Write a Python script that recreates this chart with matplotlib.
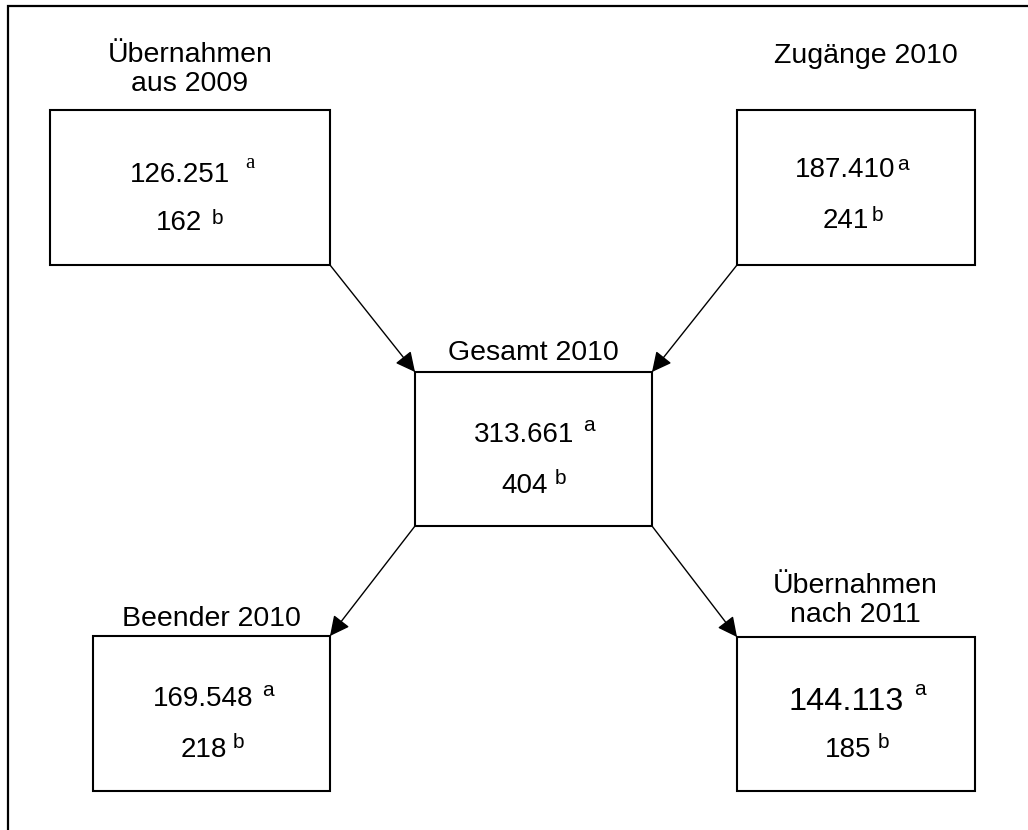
import matplotlib
matplotlib.use("Agg")
import matplotlib.pyplot as plt
from matplotlib.patches import Rectangle

# ---- data ----
titles = ["Übernahmen\naus 2009", "Zugänge 2010", "Gesamt 2010",
          "Beender 2010", "Übernahmen\nnach 2011"]
values_a = ["126.251", "187.410", "313.661", "169.548", "144.113"]
values_b = ["162", "241", "404", "218", "185"]
sup_a = ["a", "a", "a", "a", "a"]
sup_b = ["b", "b", "b", "b", "b"]
flows = [(0, 2), (1, 2), (2, 3), (2, 4)]  # from box -> to box

# ---- layout (pixel coordinates, y downwards) ----
boxes = [  # x0, y0, x1, y1
    (50, 110, 330, 265),
    (737, 110, 975, 265),
    (415, 372, 652, 526),
    (93, 636, 330, 791),
    (737, 637, 975, 791),
]
title_pos = [(190, 91), (866, 63), (533, 360), (211, 626), (855, 622)]  # center x, baseline of last line
num_a_pos = [(180, 182), (845, 177), (524, 442), (203.5, 706), (846.5, 710)]
num_b_pos = [(179, 230), (846, 228), (525, 493), (203.5, 757), (848.5, 757)]
sup_a_pos = [(245, 168), (897, 170), (583, 431), (262, 696), (914, 695)]
sup_b_pos = [(212, 224), (872, 221), (555, 484), (233, 748), (878, 748)]
num_a_size = [20, 20, 20, 20, 23.3]
sup_a_family = ["Liberation Serif", "Liberation Sans", "Liberation Sans",
                "Liberation Sans", "Liberation Sans"]
FONT = "Liberation Sans"

W, H = 1028, 830
fig = plt.figure(figsize=(W / 100, H / 100), dpi=100)
ax = fig.add_axes([0, 0, 1, 1])
ax.set_xlim(0, W)
ax.set_ylim(H, 0)
ax.axis("off")

# outer frame (clipped at right and bottom)
ax.plot([7.5, 7.5, W + 20], [H + 20, 6.5, 6.5], color="black", lw=1.6,
        solid_joinstyle="miter", clip_on=False)

for i, (x0, y0, x1, y1) in enumerate(boxes):
    ax.add_patch(Rectangle((x0, y0), x1 - x0, y1 - y0, fill=False,
                           edgecolor="black", lw=1.5, joinstyle="miter"))
    tx, ty = title_pos[i]
    lines = titles[i].split("\n")
    for k, line in enumerate(reversed(lines)):
        ax.text(tx, ty - k * 29, line, ha="center", va="baseline",
                fontsize=20.5, family=FONT)
    ax.text(*num_a_pos[i], values_a[i], ha="center", va="baseline",
            fontsize=num_a_size[i], family=FONT)
    ax.text(*num_b_pos[i], values_b[i], ha="center", va="baseline",
            fontsize=20, family=FONT)
    ax.text(*sup_a_pos[i], sup_a[i], ha="left", va="baseline",
            fontsize=15, family=sup_a_family[i])
    ax.text(*sup_b_pos[i], sup_b[i], ha="left", va="baseline",
            fontsize=15, family=FONT)


def corner(b, which):
    x0, y0, x1, y1 = boxes[b]
    return {"tl": (x0, y0), "tr": (x1, y0), "bl": (x0, y1), "br": (x1, y1)}[which]


for src, dst in flows:
    sx0, sy0, sx1, sy1 = boxes[src]
    dx0, dy0, dx1, dy1 = boxes[dst]
    scx, scy = (sx0 + sx1) / 2, (sy0 + sy1) / 2
    dcx, dcy = (dx0 + dx1) / 2, (dy0 + dy1) / 2
    start = corner(src, ("b" if dcy > scy else "t") + ("r" if dcx > scx else "l"))
    end = corner(dst, ("t" if dcy > scy else "b") + ("l" if dcx > scx else "r"))
    ax.annotate("", xy=end, xytext=start,
                arrowprops=dict(arrowstyle="-|>,head_length=0.5,head_width=0.25",
                                mutation_scale=24, color="black", lw=1.0,
                                shrinkA=0, shrinkB=0))

fig.savefig("out.png", dpi=100)
